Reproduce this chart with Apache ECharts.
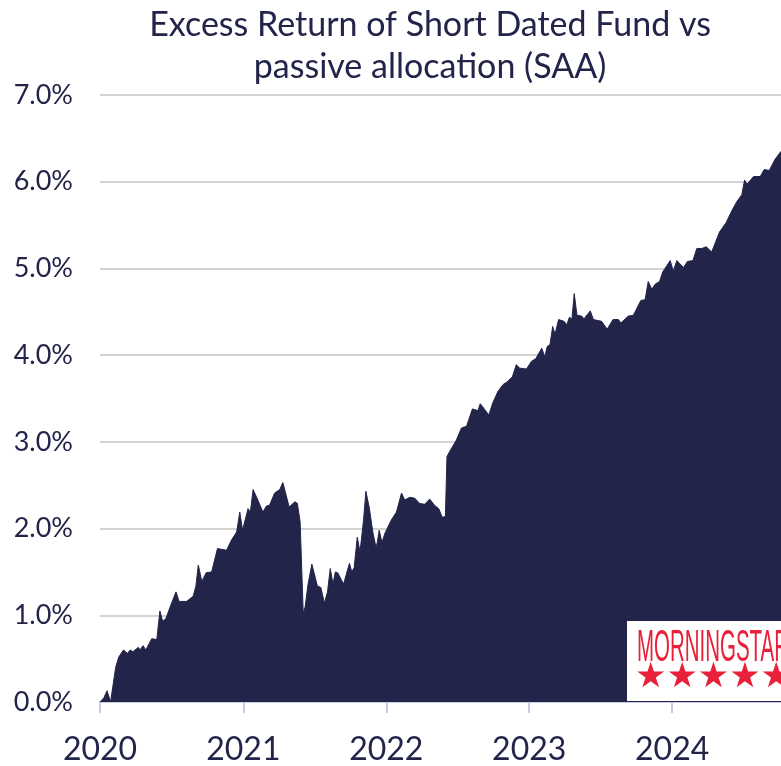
<!DOCTYPE html>
<html>
<head>
<meta charset="utf-8">
<script src="https://cdn.jsdelivr.net/npm/echarts@6/dist/echarts.min.js"></script>
<style>
    html, body { margin: 0; padding: 0; background: #fff; }
    #chart { width: 781px; height: 766px; }
</style>
</head>
<body>
<div id="chart"></div>
<script>
// excess return vs SAA (percent)
var dates = [
    '2020-01-01','2020-01-11','2020-01-19','2020-01-28','2020-02-10','2020-02-18','2020-03-01','2020-03-11',
    '2020-03-18','2020-03-25','2020-04-08','2020-04-12','2020-04-20','2020-04-27','2020-05-12','2020-05-25',
    '2020-06-02','2020-06-09','2020-06-17','2020-06-30','2020-07-13','2020-07-21','2020-08-09','2020-08-26',
    '2020-09-02','2020-09-08','2020-09-17','2020-09-28','2020-10-12','2020-10-27','2020-11-19','2020-12-02',
    '2020-12-15','2020-12-23','2020-12-30','2021-01-13','2021-01-19','2021-01-26','2021-02-07','2021-02-20',
    '2021-03-01','2021-03-09','2021-03-22','2021-04-04','2021-04-12','2021-04-28','2021-05-13','2021-05-19',
    '2021-05-26','2021-06-03','2021-06-08','2021-06-15','2021-06-25','2021-06-29','2021-07-09','2021-07-18',
    '2021-07-27','2021-08-04','2021-08-11','2021-08-18','2021-08-24','2021-08-30','2021-09-14','2021-09-29',
    '2021-10-05','2021-10-11','2021-10-19','2021-10-26','2021-11-04','2021-11-10','2021-11-19','2021-11-28',
    '2021-12-06','2021-12-09','2021-12-14','2021-12-21','2021-12-29','2022-01-03','2022-01-14','2022-01-27',
    '2022-02-09','2022-02-17','2022-03-02','2022-03-15','2022-03-27','2022-04-09','2022-04-22','2022-05-04',
    '2022-05-15','2022-05-24','2022-06-01','2022-06-05','2022-06-12','2022-06-29','2022-07-12','2022-07-25',
    '2022-08-09','2022-08-23','2022-08-29','2022-09-20','2022-09-30','2022-10-13','2022-10-26','2022-11-05',
    '2022-11-19','2022-11-29','2022-12-08','2022-12-25','2023-01-07','2023-01-18','2023-02-02','2023-02-10',
    '2023-02-16','2023-02-23','2023-03-02','2023-03-08','2023-03-17','2023-03-31','2023-04-07','2023-04-14',
    '2023-04-20','2023-04-26','2023-05-03','2023-05-15','2023-05-21','2023-06-06','2023-06-14','2023-07-05',
    '2023-07-19','2023-08-03','2023-08-17','2023-08-23','2023-09-11','2023-09-24','2023-10-13','2023-10-24',
    '2023-11-01','2023-11-10','2023-11-19','2023-11-30','2023-12-08','2023-12-27','2024-01-04','2024-01-13',
    '2024-01-30','2024-02-09','2024-02-23','2024-03-04','2024-03-17','2024-03-28','2024-04-11','2024-05-01',
    '2024-05-18','2024-06-02','2024-06-14','2024-06-27','2024-07-04','2024-07-10','2024-07-27','2024-08-13',
    '2024-08-23','2024-09-05','2024-09-20','2024-10-05'
];
var excess = [
    0.00, 0.05, 0.13, 0.00, 0.40, 0.52, 0.60, 0.56,
    0.60, 0.58, 0.63, 0.60, 0.65, 0.60, 0.73, 0.72,
    1.05, 0.93, 0.96, 1.12, 1.27, 1.16, 1.16, 1.22,
    1.34, 1.58, 1.39, 1.49, 1.50, 1.77, 1.75, 1.87,
    1.96, 2.19, 1.98, 2.23, 2.19, 2.45, 2.33, 2.19,
    2.26, 2.27, 2.41, 2.45, 2.53, 2.25, 2.31, 2.29,
    2.08, 1.02, 1.10, 1.35, 1.59, 1.58, 1.34, 1.32,
    1.14, 1.27, 1.54, 1.36, 1.50, 1.49, 1.36, 1.60,
    1.50, 1.55, 1.90, 1.73, 2.10, 2.43, 2.23, 1.95,
    1.78, 1.84, 1.98, 1.84, 1.95, 1.93, 2.10, 2.19,
    2.41, 2.33, 2.36, 2.35, 2.29, 2.28, 2.34, 2.27,
    2.23, 2.13, 2.14, 2.83, 2.89, 3.02, 3.16, 3.18,
    3.38, 3.36, 3.44, 3.31, 3.45, 3.58, 3.66, 3.69,
    3.75, 3.89, 3.85, 3.84, 3.93, 3.96, 4.08, 3.98,
    4.10, 4.12, 4.33, 4.24, 4.41, 4.39, 4.35, 4.44,
    4.41, 4.71, 4.46, 4.45, 4.42, 4.51, 4.41, 4.39,
    4.30, 4.41, 4.41, 4.37, 4.45, 4.46, 4.63, 4.64,
    4.85, 4.76, 4.82, 4.85, 4.96, 5.09, 4.97, 5.09,
    5.01, 5.08, 5.09, 5.23, 5.23, 5.25, 5.19, 5.42,
    5.53, 5.67, 5.77, 5.85, 6.02, 5.97, 6.06, 6.06,
    6.14, 6.13, 6.26, 6.35
];
var titleLines = ['Excess Return of Short Dated Fund vs', 'passive allocation (SAA)'];
var xMin = '2020-01-01';
var xMax = '2024-10-05';

var navy = '#23244a';
var logoRed = '#e8203a';
var seriesData = dates.map(function (d, i) { return [d, excess[i]]; });

var chart = echarts.init(document.getElementById('chart'));

var option = {
    backgroundColor: '#fff',
    animation: false,
    title: {
        text: titleLines.join('\n'),
        left: 425,
        textAlign: 'center',
        top: -1,
        textStyle: {
            fontFamily: 'Lato',
            fontWeight: 'normal',
            fontSize: 34,
            lineHeight: 42,
            color: navy
        }
    },
    grid: {
        left: 100,
        right: 0,
        top: 95,
        bottom: 64
    },
    xAxis: {
        type: 'time',
        min: xMin,
        max: xMax,
        minInterval: 365 * 24 * 3600 * 1000,
        maxInterval: 366 * 24 * 3600 * 1000,
        axisLine: { show: true, lineStyle: { color: '#c9cbe3', width: 2 } },
        axisTick: { show: true, length: 11, lineStyle: { color: '#c9cbe3', width: 2 } },
        splitLine: { show: false },
        axisLabel: {
            formatter: '{yyyy}',
            margin: 32,
            fontFamily: 'Lato',
            fontSize: 32,
            color: navy,
            showMaxLabel: false
        }
    },
    yAxis: {
        type: 'value',
        min: 0,
        max: 7,
        interval: 1,
        axisLine: { show: false },
        axisTick: { show: false },
        splitLine: { lineStyle: { color: '#d3d3d3', width: 2 } },
        axisLabel: {
            formatter: function (v) { return v.toFixed(1) + '%'; },
            margin: 27,
            fontFamily: 'Lato',
            fontSize: 27,
            color: navy
        }
    },
    series: [
        {
            name: 'Excess return',
            type: 'line',
            data: seriesData,
            showSymbol: false,
            lineStyle: { width: 1, color: navy },
            areaStyle: { color: navy, opacity: 1 },
            z: 3
        }
    ],
    graphic: {
        elements: [
            {
                type: 'rect', x: 627, y: 621, z: 100,
                shape: { x: 0, y: 0, width: 160, height: 80 },
                style: { fill: '#ffffff' }
            },
            {
                type: 'text', x: 637, y: 626, z: 101, scaleX: 0.455,
                style: { text: 'MORNINGSTAR', font: 'normal 45px "Liberation Sans"', fill: logoRed }
            },
            {
                type: 'text', x: 635, y: 660, z: 101,
                style: { text: '\u2605\u2605\u2605\u2605\u2605', font: 'normal 35px "DejaVu Sans"', fill: logoRed }
            }
        ]
    }
};

chart.setOption(option);
</script>
</body>
</html>
